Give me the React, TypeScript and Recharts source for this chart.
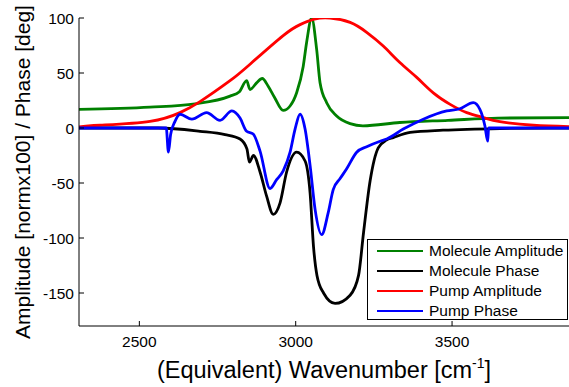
import { LineChart, Line, XAxis, YAxis, Legend, Label } from "recharts";

const FONT = '"Liberation Sans", Arial, Helvetica, sans-serif';

// wavenumbers [cm-1] and values, one pair of arrays per curve
const molAmpWn = [2307, 2534, 2678, 2790, 2820, 2843, 2854, 2875, 2893, 2912, 2932, 2960, 2982, 3003, 3024, 3035, 3051, 3067, 3078, 3099, 3131, 3174, 3215, 3333, 3487, 3647, 3874];
const molAmpVal = [17, 19, 22, 29, 33, 43, 35, 41, 45, 38, 28, 16, 20, 32, 56, 78, 100, 71.5, 41, 23, 11, 4, 2, 5, 7, 9, 9.5];

const molPhaseWn = [2307, 2560, 2694, 2774, 2822, 2844, 2852, 2865, 2886, 2907, 2928, 2950, 2971, 3003, 3030, 3046, 3057, 3068, 3089, 3126, 3174, 3201, 3217, 3238, 3264, 3290, 3312, 3366, 3471, 3653, 3874];
const molPhaseVal = [0, 0, -3, -6, -10, -19, -31, -25, -40, -62, -78.5, -68, -40, -22, -30, -59, -108, -134, -150, -159.5, -152, -134, -95, -48, -18, -11, -8.7, -4, -2, -0.5, 0];

const pumpAmpWn = [2307, 2374, 2534, 2630, 2694, 2790, 2854, 2960, 3014, 3060, 3110, 3174, 3227, 3280, 3333, 3387, 3440, 3494, 3547, 3600, 3653, 3760, 3874];
const pumpAmpVal = [1, 2.5, 6, 14, 24, 43, 58, 84, 94, 99, 100, 96, 87, 74.5, 59.5, 46, 32, 21.5, 14, 9.5, 5.8, 2.5, 1.2];

const pumpPhaseWn = [2307, 2586, 2593, 2600, 2614, 2630, 2668, 2715, 2758, 2796, 2822, 2843, 2864, 2886, 2918, 2939, 2960, 2982, 2998, 3014, 3030, 3046, 3062, 3083, 3104, 3120, 3142, 3163, 3195, 3227, 3270, 3291, 3344, 3408, 3483, 3525, 3568, 3589, 3605, 3614, 3617, 3874];
const pumpPhaseVal = [0, 0, -22, -6, 6, 12.5, 8, 14, 7, 15.5, 9, -3, -5.5, -21, -55, -47, -39, -22, -1, 12.5, -1, -34, -74, -97, -77, -56, -46, -37, -22, -17, -12, -10, -1, 8, 15.5, 17.5, 23, 17, 2, -12, 0, 0];

const xTicks = [2500, 3000, 3500];
const yTicks = [-150, -100, -50, 0, 50, 100];

const toPoints = (wn: number[], val: number[]) => wn.map((x, i) => ({ x, y: val[i] }));

const series = [
  { name: "Molecule Amplitude", color: "#008000", curve: "monotone", data: toPoints(molAmpWn, molAmpVal) },
  { name: "Molecule Phase", color: "#000000", curve: "monotone", data: toPoints(molPhaseWn, molPhaseVal) },
  { name: "Pump Amplitude", color: "#ff0000", curve: "natural", data: toPoints(pumpAmpWn, pumpAmpVal) },
  { name: "Pump Phase", color: "#0000ff", curve: "monotone", data: toPoints(pumpPhaseWn, pumpPhaseVal) },
];

// MATLAB style: tick marks point into the axes
function LeftTick({ x, y, payload }: any) {
  return (
    <g>
      <line x1={x} x2={x + 5} y1={y} y2={y} stroke="#000" />
      <text x={x - 5} y={y} dy={5.5} textAnchor="end" fontSize={15.5} fontFamily={FONT} fill="#000">
        {payload.value}
      </text>
    </g>
  );
}

function BottomTick({ x, y, payload }: any) {
  return (
    <g>
      <line x1={x} x2={x} y1={y} y2={y - 5} stroke="#000" />
      <text x={x} y={y} dy={20.5} textAnchor="middle" fontSize={15.5} fontFamily={FONT} fill="#000">
        {payload.value}
      </text>
    </g>
  );
}

function TopTick({ x, y }: any) {
  return <line x1={x} x2={x} y1={y} y2={y + 5} stroke="#000" />;
}

function LegendBox() {
  return (
    <div
      style={{
        border: "1px solid #000",
        background: "#fff",
        boxSizing: "border-box",
        width: 201,
        height: 81,
        paddingTop: 1,
        fontFamily: FONT,
        fontSize: 15.5,
      }}
    >
      {series.map((s) => (
        <div key={s.name} style={{ display: "flex", alignItems: "center", height: 20 }}>
          <div style={{ width: 46, height: 2, background: s.color, marginLeft: 9, marginRight: 6 }} />
          <span style={{ lineHeight: "20px", whiteSpace: "nowrap" }}>{s.name}</span>
        </div>
      ))}
    </div>
  );
}

export default function App() {
  return (
    <div style={{ position: "absolute", left: 0, top: 0, background: "#fff" }}>
      <LineChart width={569} height={387} margin={{ top: 18, right: 0, bottom: 0, left: 0 }}>
        <XAxis
          xAxisId="top"
          orientation="top"
          type="number"
          dataKey="x"
          domain={[2307, 3874]}
          ticks={xTicks}
          height={0}
          tickSize={0}
          tickMargin={0}
          tickLine={false}
          tick={<TopTick />}
          axisLine={{ stroke: "#000" }}
          allowDataOverflow
        />
        <XAxis
          type="number"
          dataKey="x"
          domain={[2307, 3874]}
          ticks={xTicks}
          height={61}
          tickSize={0}
          tickMargin={0}
          tickLine={false}
          tick={<BottomTick />}
          axisLine={{ stroke: "#000" }}
          allowDataOverflow
        >
          <Label
            content={({ viewBox }: any) => (
              <text
                x={viewBox.x + viewBox.width / 2}
                y={viewBox.y + 52}
                textAnchor="middle"
                fontSize={23.5}
                fontFamily={FONT}
                fill="#000"
              >
                (Equivalent) Wavenumber [cm
                <tspan fontSize={14} dy={-10}>-1</tspan>
                <tspan dy={10}>]</tspan>
              </text>
            )}
          />
        </XAxis>
        <YAxis
          type="number"
          domain={[-180, 100]}
          ticks={yTicks}
          width={79}
          tickSize={0}
          tickMargin={0}
          tickLine={false}
          tick={<LeftTick />}
          axisLine={{ stroke: "#000" }}
          allowDataOverflow
        >
          <Label
            content={({ viewBox }: any) => {
              const cx = 30;
              const cy = viewBox.y + viewBox.height / 2;
              return (
                <text
                  x={cx}
                  y={cy}
                  transform={`rotate(-90 ${cx} ${cy})`}
                  textAnchor="middle"
                  fontSize={21}
                  fontFamily={FONT}
                  fill="#000"
                >
                  Amplitude [normx100] / Phase [deg]
                </text>
              );
            }}
          />
        </YAxis>
        {series.map((s) => (
          <Line
            key={s.name}
            data={s.data}
            dataKey="y"
            name={s.name}
            type={s.curve as any}
            stroke={s.color}
            strokeWidth={2.8}
            dot={false}
            isAnimationActive={false}
          />
        ))}
        <Legend
          layout="vertical"
          align="center"
          verticalAlign="middle"
          content={() => <LegendBox />}
          wrapperStyle={{ position: "absolute", left: 367, top: 239, width: 201, height: 81, bottom: "auto", right: "auto" }}
        />
      </LineChart>
    </div>
  );
}
